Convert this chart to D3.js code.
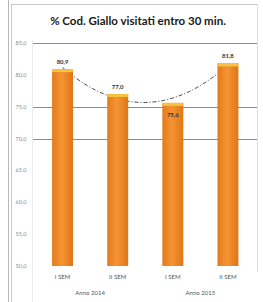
<!DOCTYPE html>
<html>
<head>
<meta charset="utf-8">
<script src="https://cdn.jsdelivr.net/npm/d3@7"></script>
<style>
  body { margin: 0; background: #fff; }
</style>
</head>
<body>
<div id="chart"></div>
<script>
// data
var periods = ["I SEM", "II SEM", "I SEM", "II SEM"];
var years = ["Anno 2014", "Anno 2015"];
var values = [80.9, 77.0, 75.6, 81.8];
var valueLabels = ["80,9", "77,0", "75,6", "81,8"];
var yTicks = [50, 55, 60, 65, 70, 75, 80, 85];
var gridAt = [70, 75, 85];

var W = 263, H = 302;
var svg = d3.select("#chart").append("svg")
  .attr("width", W).attr("height", H);

// bar gradient
var defs = svg.append("defs");
var grad = defs.append("linearGradient").attr("id", "barGrad")
  .attr("x1", "0").attr("x2", "1").attr("y1", "0").attr("y2", "0");
grad.append("stop").attr("offset", "0%").attr("stop-color", "#e27a1c");
grad.append("stop").attr("offset", "45%").attr("stop-color", "#f59432");
grad.append("stop").attr("offset", "100%").attr("stop-color", "#de7618");

// outer frame
svg.append("line").attr("x1", 8.5).attr("x2", 8.5).attr("y1", 0).attr("y2", H).attr("stroke", "#b8b8b8");
svg.append("line").attr("x1", 11.5).attr("x2", 11.5).attr("y1", 4).attr("y2", H).attr("stroke", "#c8c8c8");
svg.append("line").attr("x1", 11.5).attr("x2", 257.5).attr("y1", 4.5).attr("y2", 4.5).attr("stroke", "#c8c8c8");
svg.append("line").attr("x1", 257.5).attr("x2", 257.5).attr("y1", 4.5).attr("y2", 272).attr("stroke", "#e0e0e0");
svg.append("line").attr("x1", 32.5).attr("x2", 32.5).attr("y1", 40).attr("y2", H).attr("stroke", "#ececec");

svg.append("text")
  .attr("x", 138).attr("y", 25)
  .attr("text-anchor", "middle")
  .style("font-family", "Lato, 'Open Sans', sans-serif")
  .style("font-weight", "bold")
  .style("font-size", "11.5px")
  .attr("fill", "#1a1a1a")
  .text("% Cod. Giallo visitati entro 30 min.");

var x = d3.scaleBand().domain(d3.range(values.length)).range([35, 255.5]).paddingInner(0.62).paddingOuter(0.31);
var y = d3.scaleLinear().domain([50, 85]).range([266, 43]);

// grid lines
svg.append("g").selectAll("line").data(gridAt).enter().append("line")
  .attr("x1", 33).attr("x2", 257)
  .attr("y1", function (d) { return Math.round(y(d)) + 0.5; })
  .attr("y2", function (d) { return Math.round(y(d)) + 0.5; })
  .attr("stroke", "#8c8c8c").attr("stroke-width", 1);

// y axis labels
svg.append("g").selectAll("text").data(yTicks).enter().append("text")
  .attr("x", 21).attr("y", function (d) { return y(d) + 2; })
  .attr("text-anchor", "middle")
  .style("font-family", "Lato, sans-serif").style("font-size", "5.5px")
  .attr("fill", "#8a8a8a")
  .text(function (d) { return d3.format(".1f")(d).replace(".", ","); });

// polynomial (order 2) trendline, as in the spreadsheet
var xs = values.map(function (v, i) { return i - 1.5; });
var n = values.length;
var s2 = d3.sum(xs, function (t) { return t * t; });
var s4 = d3.sum(xs, function (t) { return t * t * t * t; });
var sy = d3.sum(values);
var sty = d3.sum(values, function (v, i) { return xs[i] * v; });
var st2y = d3.sum(values, function (v, i) { return xs[i] * xs[i] * v; });
var b = sty / s2;
var c = (n * st2y - s2 * sy) / (n * s4 - s2 * s2);
var a = (sy - c * s2) / n;
var trendPts = d3.range(0, 3.001, 0.05).map(function (u) {
  var t = u - 1.5;
  return [x(0) + x.bandwidth() / 2 + u * x.step(), y(a + b * t + c * t * t)];
});
svg.append("path")
  .attr("d", d3.line().curve(d3.curveLinear)(trendPts))
  .attr("fill", "none").attr("stroke", "#333")
  .attr("stroke-width", 0.9)
  .attr("stroke-dasharray", "4,2,1,2");

// bars
var bars = svg.append("g").selectAll("g").data(values).enter().append("g");
bars.append("rect")
  .attr("x", function (d, i) { return x(i); })
  .attr("y", function (d) { return y(d); })
  .attr("width", x.bandwidth())
  .attr("height", function (d) { return y(50) - y(d); })
  .attr("fill", "url(#barGrad)");
bars.append("rect")
  .attr("x", function (d, i) { return x(i); })
  .attr("y", function (d) { return y(d); })
  .attr("width", x.bandwidth())
  .attr("height", 3)
  .attr("fill", "#f7c23e");

// value labels
svg.append("g").selectAll("text").data(values).enter().append("text")
  .attr("x", function (d, i) { return x(i) + x.bandwidth() / 2; })
  .attr("y", function (d, i) { return i === 2 ? y(d) + 14 : y(d) - 5; })
  .attr("text-anchor", "middle")
  .style("font-family", "Lato, sans-serif").style("font-size", "6px").style("font-weight", "bold")
  .attr("fill", "#333")
  .text(function (d, i) { return valueLabels[i]; });

// category labels
svg.append("g").selectAll("text").data(periods).enter().append("text")
  .attr("x", function (d, i) { return x(i) + x.bandwidth() / 2; })
  .attr("y", 279)
  .attr("text-anchor", "middle")
  .style("font-family", "Lato, sans-serif").style("font-size", "6px")
  .attr("fill", "#555")
  .text(function (d) { return d; });

svg.append("g").selectAll("text").data(years).enter().append("text")
  .attr("x", function (d, i) { return (x(i * 2) + x(i * 2 + 1) + x.bandwidth()) / 2; })
  .attr("y", 295)
  .attr("text-anchor", "middle")
  .style("font-family", "Lato, sans-serif").style("font-size", "6px")
  .attr("fill", "#555")
  .text(function (d) { return d; });
</script>
</body>
</html>
